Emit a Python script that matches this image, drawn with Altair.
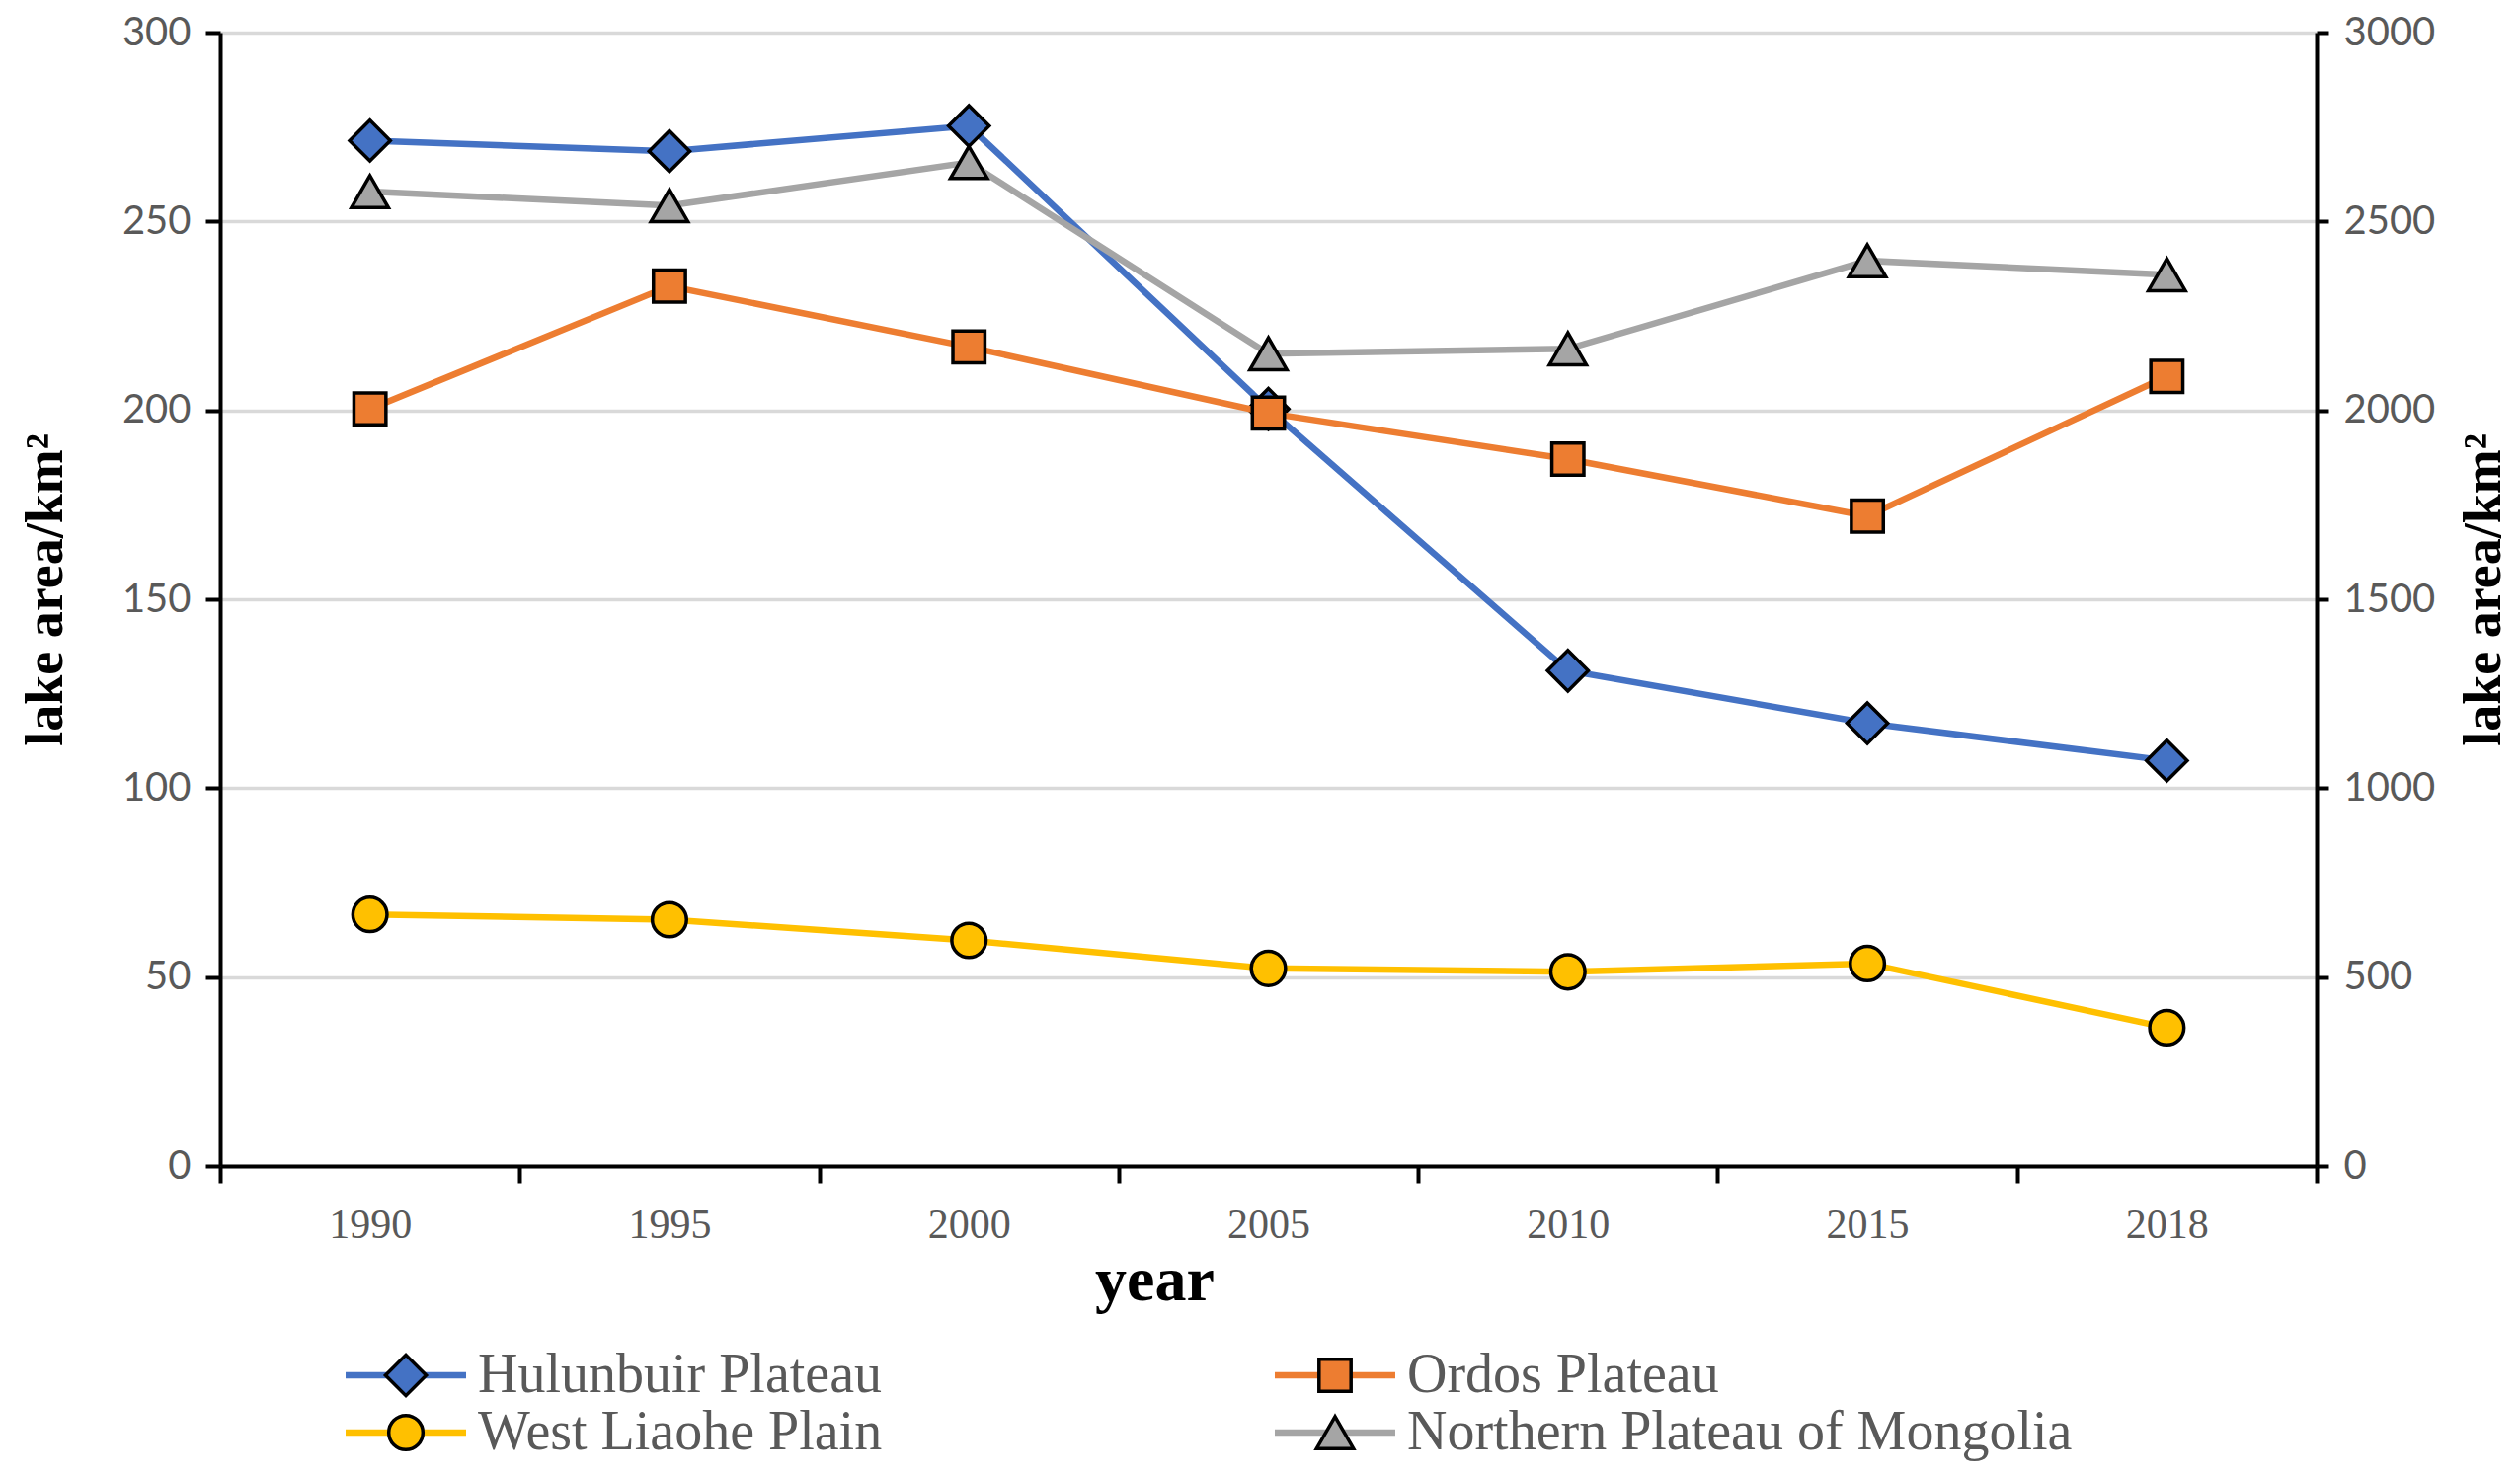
import altair as alt
import pandas as pd

# ---------------- data ----------------
years = ["1990", "1995", "2000", "2005", "2010", "2015", "2018"]
series_names = ["Hulunbuir Plateau", "Ordos Plateau", "West Liaohe Plain",
                "Northern Plateau of Mongolia"]
# right axis (0-3000 km²)
hulunbuir = [2714, 2686, 2753, 2004, 1311, 1172, 1073]
northern = [2579, 2542, 2656, 2150, 2163, 2396, 2359]
# left axis (0-300 km²)
ordos = [200.4, 232.9, 216.8, 199.3, 187.1, 172.0, 209.0]
west_liaohe = [66.6, 65.2, 59.7, 52.3, 51.4, 53.6, 36.6]

left_ticks = [0, 50, 100, 150, 200, 250, 300]
right_ticks = [0, 500, 1000, 1500, 2000, 2500, 3000]

colors = ["#4472C4", "#ED7D31", "#FFC000", "#A5A5A5"]
shapes = ["diamond", "square", "circle", "triangle-up"]
sizes = [1700, 1050, 1200, 1400]

legend_col = [0, 1, 0, 1]
legend_row = [0, 0, 1, 1]

# ---------------- tables ----------------
values_by_series = {
    "Hulunbuir Plateau": hulunbuir,
    "Ordos Plateau": ordos,
    "West Liaohe Plain": west_liaohe,
    "Northern Plateau of Mongolia": northern,
}
rows = []
for name, vals in values_by_series.items():
    for yr, v in zip(years, vals):
        rows.append({"series": name, "year": yr, "value": v})
df = pd.DataFrame(rows)
leg_df = pd.DataFrame({"series": series_names, "col": legend_col, "row": legend_row})

SERIF = "Liberation Serif"
SANS = "Lato"
LABEL_COLOR = "#595959"
W, H = 2123, 1148

color_scale = alt.Scale(domain=series_names, range=colors)
shape_scale = alt.Scale(domain=series_names, range=shapes)
size_scale = alt.Scale(type="ordinal", domain=series_names, range=sizes)

x_enc = alt.X(
    "year:O", sort=years, bandPosition=0.5,
    scale=alt.Scale(type="band", paddingInner=0, paddingOuter=0),
    axis=alt.Axis(
        title="year", tickBand="extent", labelAngle=0,
        labelFont=SERIF, labelFontSize=42, labelColor=LABEL_COLOR, labelPadding=22,
        tickSize=17, tickWidth=4, tickColor="black",
        domainColor="black", domainWidth=4,
        titleFont=SERIF, titleFontSize=64, titleFontWeight="bold", titleColor="black",
        titlePadding=4, titleX=946, grid=False,
    ),
)

common_y_axis = dict(
    labelFont=SANS, labelFontSize=40, labelColor=LABEL_COLOR, labelPadding=15,
    tickWidth=4, tickColor="black", domainColor="black", domainWidth=4,
    titleFont=SERIF, titleFontSize=54, titleFontWeight="bold", titleColor="black",
    title="lake area/km²", titleY=564, format="d",
)

y_left = alt.Y(
    "value:Q", scale=alt.Scale(domain=[0, 300], nice=False),
    axis=alt.Axis(orient="left", values=left_ticks, grid=True, gridColor="#d9d9d9",
                  gridWidth=3.5, tickSize=15, titlePadding=50, **common_y_axis),
)
y_right = alt.Y(
    "value:Q", scale=alt.Scale(domain=[0, 3000], nice=False),
    axis=alt.Axis(orient="right", values=right_ticks, grid=False, tickSize=12,
                  titleAngle=270, titleBaseline="top", titlePadding=23, **common_y_axis),
)
y_right_hidden = alt.Y("value:Q", scale=alt.Scale(domain=[0, 3000], nice=False), axis=None)


def series_layer(name, y_enc):
    base = alt.Chart(df).transform_filter(alt.datum.series == name)
    line = base.mark_line(strokeWidth=6.5).encode(
        x=x_enc, y=y_enc,
        color=alt.Color("series:N", scale=color_scale, legend=None),
    )
    pts = base.mark_point(filled=True, stroke="black", strokeWidth=3.5, opacity=1).encode(
        x=x_enc, y=y_enc,
        fill=alt.Fill("series:N", scale=color_scale, legend=None),
        shape=alt.Shape("series:N", scale=shape_scale, legend=None),
        size=alt.Size("series:N", scale=size_scale, legend=None),
    )
    return line + pts


layer_right = series_layer("Hulunbuir Plateau", y_right)
layer_left = series_layer("Ordos Plateau", y_left) + series_layer("West Liaohe Plain", y_left)
layer_top = series_layer("Northern Plateau of Mongolia", y_right_hidden)

main = alt.layer(layer_right, layer_left, layer_top).resolve_scale(y="independent").properties(
    width=W, height=H
)

# ---------------- legend drawn as a small chart ----------------
leg_x = alt.X("col:O", scale=alt.Scale(type="point", padding=0.1998), axis=None)
leg_y = alt.Y("row:O", scale=alt.Scale(type="point", padding=0.5), axis=None)
leg_base = alt.Chart(leg_df)
leg_line = leg_base.mark_point(shape="stroke", size=14884, strokeWidth=6.5, filled=False,
                               opacity=1).encode(
    x=leg_x, y=leg_y, color=alt.Color("series:N", scale=color_scale, legend=None))
leg_pts = leg_base.mark_point(filled=True, stroke="black", strokeWidth=3.5, opacity=1).encode(
    x=leg_x, y=leg_y,
    fill=alt.Fill("series:N", scale=color_scale, legend=None),
    shape=alt.Shape("series:N", scale=shape_scale, legend=None),
    size=alt.Size("series:N", scale=size_scale, legend=None),
)
leg_txt = leg_base.mark_text(align="left", baseline="middle", dx=73, font=SERIF,
                             fontSize=56, color=LABEL_COLOR).encode(
    x=leg_x, y=leg_y, text="series:N")
legend = alt.layer(leg_line, leg_pts, leg_txt).properties(width=1317, height=116)

chart = alt.vconcat(main, legend, spacing=35).properties(
    padding={"left": 11, "top": 5, "right": 0, "bottom": 0}
).configure_view(strokeOpacity=0)

chart.save("out.html", embed_options={"renderer": "svg", "actions": False})
